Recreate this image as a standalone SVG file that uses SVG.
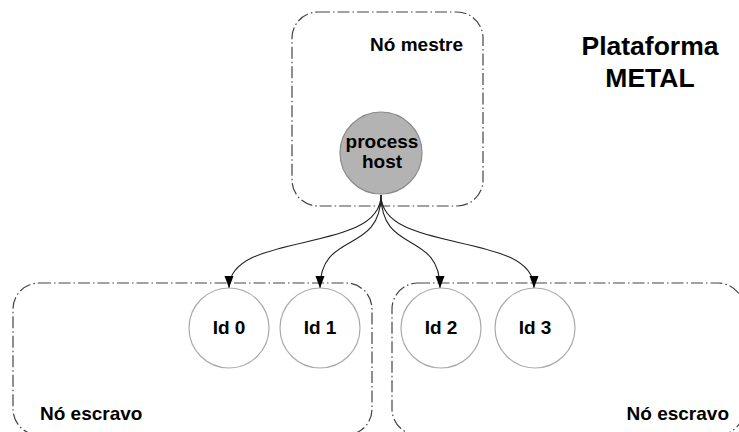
<svg xmlns="http://www.w3.org/2000/svg" width="739" height="432" viewBox="0 0 739 432">
<defs>
<style>
.grp{fill:none;stroke:#444;stroke-width:1.2;stroke-dasharray:12 3 1.5 3}
.pc{fill:#fff;stroke:#aaa;stroke-width:1.2}
.t{font-family:"Liberation Sans",Arial,sans-serif;font-weight:bold;fill:#000}
.c{fill:none;stroke:#222;stroke-width:1.1}
</style>
<marker id="ah" viewBox="0 0 12 10" refX="12" refY="5" markerWidth="12" markerHeight="10" markerUnits="userSpaceOnUse" orient="auto">
<path d="M0,0.5 L12,5 L0,9.5 Z" fill="#000"/>
</marker>
</defs>
<g id="master">
<rect class="grp" x="292" y="12" width="191" height="194" rx="26"/>
<text class="t" x="463" y="51" font-size="19" text-anchor="end">Nó mestre</text>
</g>
<g id="slave-left">
<rect class="grp" x="13" y="283" width="359" height="152" rx="26"/>
<text class="t" x="40" y="420" font-size="19">Nó escravo</text>
</g>
<g id="slave-right">
<rect class="grp" x="392" y="283" width="352" height="152" rx="26"/>
<text class="t" x="729" y="420" font-size="19" text-anchor="end">Nó escravo</text>
</g>
<g id="title">
<text class="t" x="650" y="55" font-size="26.5" text-anchor="middle">Plataforma</text>
<text class="t" x="650" y="87" font-size="26.5" text-anchor="middle">METAL</text>
</g>
<g id="connectors">
<path class="c" d="M381,195 C381,255 229,230 229,288" marker-end="url(#ah)"/>
<path class="c" d="M381,195 C381,255 320,230 320,288" marker-end="url(#ah)"/>
<path class="c" d="M381,195 C381,255 440,230 440,288" marker-end="url(#ah)"/>
<path class="c" d="M381,195 C381,255 534,230 534,288" marker-end="url(#ah)"/>
</g>
<g id="process-host">
<circle cx="381" cy="153" r="41" fill="#b3b3b3" stroke="#8a8a8a" stroke-width="1.2"/>
<text class="t" x="382" y="148" font-size="19" text-anchor="middle">process</text>
<text class="t" x="382" y="168" font-size="19" text-anchor="middle">host</text>
</g>
<g id="id0">
<circle class="pc" cx="229" cy="328" r="40"/>
<text class="t" x="229" y="334" font-size="19" text-anchor="middle">Id 0</text>
</g>
<g id="id1">
<circle class="pc" cx="320" cy="328" r="40"/>
<text class="t" x="320" y="334" font-size="19" text-anchor="middle">Id 1</text>
</g>
<g id="id2">
<circle class="pc" cx="441" cy="328" r="40"/>
<text class="t" x="441" y="334" font-size="19" text-anchor="middle">Id 2</text>
</g>
<g id="id3">
<circle class="pc" cx="535" cy="328" r="40"/>
<text class="t" x="535" y="334" font-size="19" text-anchor="middle">Id 3</text>
</g>
</svg>
